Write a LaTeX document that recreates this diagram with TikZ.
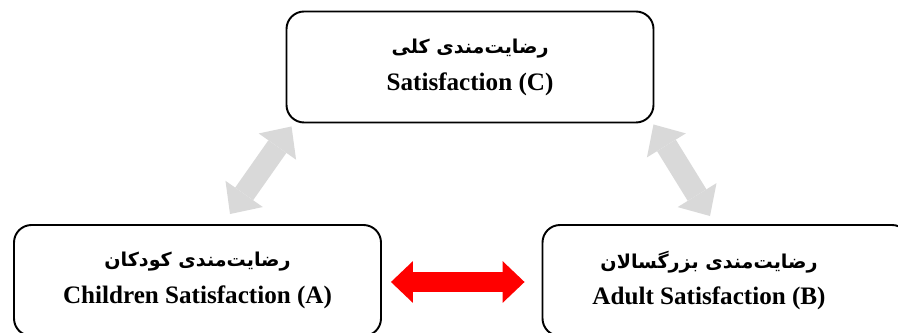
\documentclass[tikz,border=0pt]{standalone}
\usepackage{fontspec}
\setmainfont{Liberation Serif}
\newfontfamily\farsi[Script=Arabic, Scale=0.76]{DejaVu Sans}
\TeXXeTstate=1
\usetikzlibrary{arrows.meta}

\tikzset{
  box/.style={draw, line width=1.1pt, rounded corners=10pt, minimum width=367*0.02cm,
    minimum height=111*0.02cm, align=center, font=\fontsize{14.3}{21}\selectfont\bfseries},
  boxtext/.style={align=center, font=\fontsize{14.3}{21}\selectfont\bfseries},
  greyarrow/.style={line width=12.5pt, color=black!15,
    {Triangle[length=14pt,width=26pt,line width=0pt]}-{Triangle[length=14pt,width=26pt,line width=0pt]}},
  redarrow/.style={line width=11.3pt, color=red,
    {Triangle[length=12.5pt,width=23.8pt,line width=0pt]}-{Triangle[length=12.5pt,width=23.8pt,line width=0pt]}}
}

\begin{document}
\begin{tikzpicture}[x=0.02cm, y=-0.02cm]
\useasboundingbox (0,0) rectangle (898,333);
\clip (0,0) rectangle (898,333);

\node[box] (C) at (470,67) {{\farsi\beginR رضایت‌مندی کلی\endR}\\Satisfaction (C)};
\node[box] (A) at (197.5,280.5) {{\farsi\beginR رضایت‌مندی کودکان\endR}\\Children Satisfaction (A)};
\node[box] (B) at (726,280.5) {}; % text sits left of centre
\node[boxtext] (Btext) at ([shift={(-17,0)}]B.center) {{\farsi\beginR رضایت‌مندی بزرگسالان\endR}\\Adult Satisfaction (B)};

\draw[greyarrow] ([shift={(32.5,-10)}]A.north) -- ([shift={(6,3)}]C.south west);
\draw[greyarrow] ([shift={(-1,1)}]C.south east) -- ([shift={(-16,-8)}]B.north);
\draw[redarrow] ([shift={(9,1.5)}]A.east) -- ([shift={(-17,1.5)}]B.west);

\end{tikzpicture}
\end{document}
